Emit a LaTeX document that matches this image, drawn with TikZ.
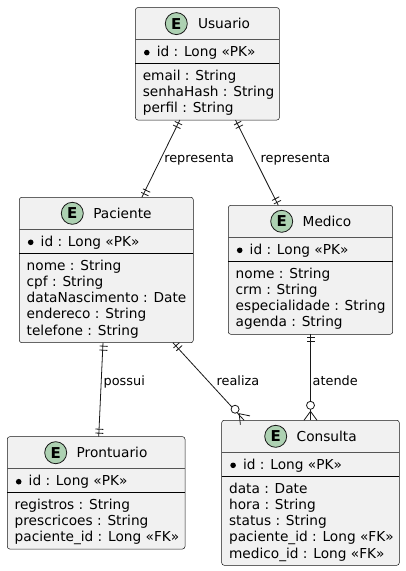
\documentclass[tikz,border=0pt]{standalone}
\usepackage{fontspec}
\setmainfont{DejaVu Sans}
\usetikzlibrary{calc}
\definecolor{boxfill}{HTML}{F1F1F1}
\definecolor{boxline}{HTML}{181818}
\definecolor{headline}{HTML}{555555}
\definecolor{spot}{HTML}{ADD1B2}
\tikzset{
  entitybox/.style={draw=boxline,fill=boxfill,line width=0.5pt,rounded corners=2.5pt,anchor=north west,inner sep=0pt,outer sep=0pt},
  rowtext/.style={anchor=base west,inner sep=0pt,outer sep=0pt,text=black,font=\fontsize{13.7}{16}\selectfont},
  spotmark/.style={circle,draw=boxline,fill=spot,line width=0.8pt,minimum size=22pt,inner sep=0pt,font=\fontsize{15}{16}\selectfont\bfseries},
  keydot/.style={circle,fill=black,minimum size=5.6pt,inner sep=0pt},
  relline/.style={draw=boxline,line width=0.8pt},
  rellabel/.style={anchor=base west,inner sep=0pt,outer sep=0pt,text=black,font=\fontsize{12.85}{15}\selectfont}
}
% #1 name, #2 left, #3 top, #4 right, #5 bottom, #6 spot x, #7 title, #8 title x, #9 body rows
\newcommand{\entitybox}[9]{%
  \node[entitybox,minimum width=#4pt-#2pt,minimum height=#5pt-#3pt] (#1) at (#2,#3) {};
  \draw[headline,line width=0.5pt] (#2,#3+32) -- (#4,#3+32);
  \draw[black,line width=0.7pt] (#2,#3+56) -- (#4,#3+56);
  \node[spotmark] (#1-spot) at (#6,#3+16) {E};
  \node[rowtext] (#1-title) at (#8,#3+20.8) {#7};
  \node[keydot] (#1-dot) at (#2+11.4,#3+45) {};
  \node[rowtext] (#1-key) at (#2+21.4,#3+49) {id : Long «PK»};
  \foreach \rowtxt [count=\rowi] in {#9} {
    \node[rowtext] (#1-row\rowi) at (#2+7.4,#3+72.7+16.25*\rowi-16.25) {\rowtxt};
  }
}
\newcommand{\borderpt}[3]{%
  \path let \p1=($(#2)-(#1)$), \n1={atan2(\y1,\x1)} in coordinate (#3) at (#1.\n1);
}
\newcommand{\barsmark}[2]{% on border point #1, going towards #2
  \draw[relline] ($(#1)!3.5pt!(#2)!4pt!90:(#2)$) -- ($(#1)!3.5pt!(#2)!4pt!-90:(#2)$);
  \draw[relline] ($(#1)!7.5pt!(#2)!4pt!90:(#2)$) -- ($(#1)!7.5pt!(#2)!4pt!-90:(#2)$);
}
\newcommand{\crowmark}[2]{% on border point #1, coming from #2
  \draw[relline] ($(#1)!6.5pt!90:(#2)$) -- ($(#1)!9pt!(#2)$) -- ($(#1)!6.5pt!-90:(#2)$);
  \draw[relline,fill=white] ($(#1)!15pt!(#2)$) circle[radius=4pt];
}
\begin{document}
\begin{tikzpicture}[x=1pt,y=-1pt]
\useasboundingbox (0,0) rectangle (405,571);
\fill[white] (0,0) rectangle (405,571);

\entitybox{usuario}{135.4}{7.6}{279.4}{120}{176.3}{Usuario}{198}{email : String,senhaHash : String,perfil : String}
\entitybox{paciente}{19.3}{197.3}{193.3}{342.7}{72.3}{Paciente}{93.3}{nome : String,cpf : String,dataNascimento : Date,endereco : String,telefone : String}
\entitybox{medico}{228.3}{205.3}{392.7}{334.3}{281.7}{Medico}{302.7}{nome : String,crm : String,especialidade : String,agenda : String}
\entitybox{prontuario}{7.3}{436.7}{185}{549}{55.7}{Prontuario}{76.7}{registros : String,prescricoes : String,paciente\_id : Long «FK»}
\entitybox{consulta}{221.7}{420.3}{399.3}{565.3}{275.7}{Consulta}{296.7}{data : Date,hora : String,status : String,paciente\_id : Long «FK»,medico\_id : Long «FK»}

\borderpt{usuario}{paciente}{ua}
\borderpt{paciente}{usuario}{pa}
\borderpt{usuario}{medico}{ub}
\borderpt{medico}{usuario}{mb}
\borderpt{paciente}{prontuario}{pc}
\borderpt{prontuario}{paciente}{rc}
\borderpt{paciente}{consulta}{pd}
\borderpt{consulta}{paciente}{cd}
\borderpt{medico}{consulta}{me}
\borderpt{consulta}{medico}{ce}

\draw[relline] (usuario) -- (paciente);
\draw[relline] (usuario) -- (medico);
\draw[relline] (paciente) -- (prontuario);
\draw[relline] (paciente) -- (consulta);
\draw[relline] (medico) -- (consulta);

\barsmark{ua}{pa}
\barsmark{pa}{ua}
\barsmark{ub}{mb}
\barsmark{mb}{ub}
\barsmark{pc}{rc}
\barsmark{rc}{pc}
\barsmark{pd}{cd}
\crowmark{cd}{pd}
\barsmark{me}{ce}
\crowmark{ce}{me}

\node[rellabel] (lab1) at (164.3,162.7) {representa};
\node[rellabel] (lab2) at (260.7,162.7) {representa};
\node[rellabel] (lab3) at (103.7,385.7) {possui};
\node[rellabel] (lab4) at (216.7,385.7) {realiza};
\node[rellabel] (lab5) at (312.7,385.7) {atende};
\end{tikzpicture}
\end{document}
